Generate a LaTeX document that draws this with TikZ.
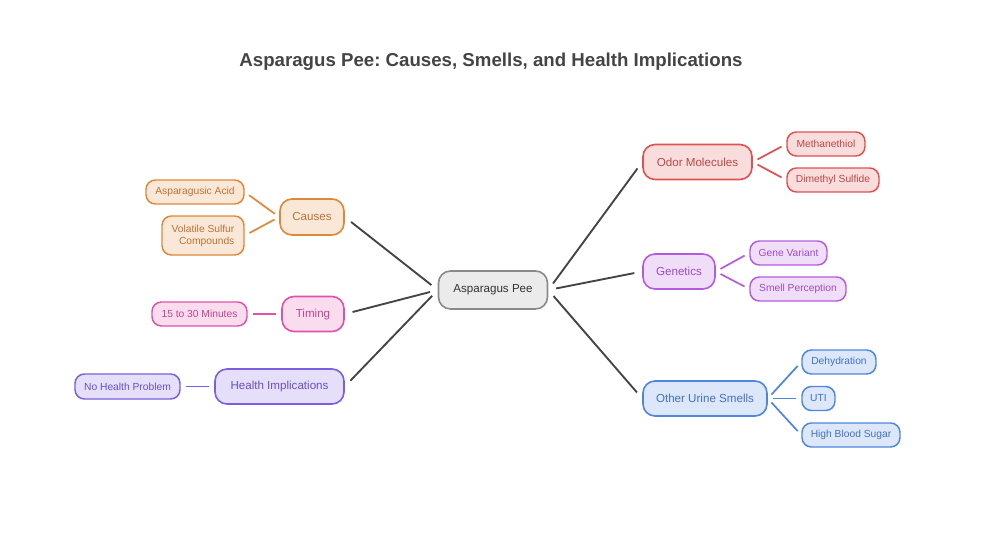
\documentclass[tikz,border=0pt]{standalone}
\usepackage{fontspec}
\setmainfont{Liberation Sans}
\usetikzlibrary{arrows.meta}
\frenchspacing
\definecolor{centergray}{HTML}{8A8A8A}
\definecolor{causeorange}{HTML}{E0883A}
\definecolor{timepink}{HTML}{E052A8}
\definecolor{healthpurple}{HTML}{7B5FE0}
\definecolor{odorred}{HTML}{E05252}
\definecolor{genviolet}{HTML}{B65BE0}
\definecolor{urineblue}{HTML}{4F86E0}
\definecolor{titlegray}{HTML}{444444}

\tikzset{
  tone/.style={draw=#1, fill=#1!20, text=#1!85!black},
  branch/.style={rounded corners=9pt, minimum height=26.25pt, inner sep=0pt,
    line width=1.2pt, font=\fontsize{8.7}{10}\selectfont},
  leaf/.style={rounded corners=7pt, minimum height=18pt, inner sep=0pt,
    line width=1.1pt, font=\fontsize{7.7}{8.8}\selectfont},
  mainlink/.style={line width=1.4pt, titlegray, shorten <=6pt, shorten >=6pt},
  sublink/.style={line width=1.3pt, #1, shorten <=4pt, shorten >=4pt}
}

\begin{document}
\begin{tikzpicture}[x=0.75pt, y=-0.75pt]
  \useasboundingbox (0,0) rectangle (983,533);

  % Titel
  \node[font=\bfseries\fontsize{14}{16}\selectfont, text=titlegray] (title) at (491,62)
    {Asparagus Pee: Causes, Smells, and Health Implications};

  % Zentrum
  \node[branch, draw=centergray, fill=black!8, text=black!80, minimum width=81.75pt,
    minimum height=28.5pt] (pee) at (493,290) {Asparagus Pee};

  % linke Seite
  \node[branch, tone=causeorange, minimum width=48pt, minimum height=27pt] (causes) at (312,217) {Causes};
  \node[leaf, tone=causeorange, minimum width=73.5pt] (acid) at (195,192) {Asparagusic Acid};
  \node[leaf, tone=causeorange, minimum width=61.5pt, minimum height=29.25pt, align=right]
    (sulfur) at (203,235.5) {Volatile Sulfur\\Compounds};

  \node[branch, tone=timepink, minimum width=46.5pt] (timing) at (313,314) {Timing};
  \node[leaf, tone=timepink, minimum width=71.25pt] (minutes) at (199.5,314) {15 to 30 Minutes};

  \node[branch, tone=healthpurple, minimum width=96.75pt] (health) at (279.5,386.5) {Health Implications};
  \node[leaf, tone=healthpurple, minimum width=78.75pt, minimum height=18.75pt]
    (noproblem) at (127.5,386.5) {No Health Problem};

  % rechte Seite
  \node[branch, tone=odorred, minimum width=81.75pt] (odor) at (697.5,162) {Odor Molecules};
  \node[leaf, tone=odorred, minimum width=58.5pt] (methan) at (826,144) {Methanethiol};
  \node[leaf, tone=odorred, minimum width=69pt] (dimethyl) at (833,180) {Dimethyl Sulfide};

  \node[branch, tone=genviolet, minimum width=54pt] (genetics) at (679,271.5) {Genetics};
  \node[leaf, tone=genviolet, minimum width=57.75pt] (variant) at (788.5,253) {Gene Variant};
  \node[leaf, tone=genviolet, minimum width=72pt] (perception) at (798,289) {Smell Perception};

  \node[branch, tone=urineblue, minimum width=93pt] (urine) at (705,398.5) {Other Urine Smells};
  \node[leaf, tone=urineblue, minimum width=55.5pt] (dehyd) at (839,362) {Dehydration};
  \node[leaf, tone=urineblue, minimum width=24.75pt] (uti) at (818.5,398.5) {UTI};
  \node[leaf, tone=urineblue, minimum width=73.5pt] (sugar) at (851,435) {High Blood Sugar};

  % Hauptäste
  \draw[mainlink] (pee.west) -- (causes.east);
  \draw[mainlink] (pee.west) -- (timing.east);
  \draw[mainlink] (pee.west) -- (health.east);
  \draw[mainlink] (pee.east) -- (odor.west);
  \draw[mainlink] (pee.east) -- (genetics.west);
  \draw[mainlink] (pee.east) -- (urine.west);

  % Nebenäste
  \draw[sublink=causeorange] (causes.west) -- (acid.east);
  \draw[sublink=causeorange] (causes.west) -- (sulfur.east);
  \draw[sublink=timepink] (timing.west) -- (minutes.east);
  \draw[sublink=healthpurple] (health.west) -- (noproblem.east);
  \draw[sublink=odorred] (odor.east) -- (methan.west);
  \draw[sublink=odorred] (odor.east) -- (dimethyl.west);
  \draw[sublink=genviolet] (genetics.east) -- (variant.west);
  \draw[sublink=genviolet] (genetics.east) -- (perception.west);
  \draw[sublink=urineblue] (urine.east) -- (dehyd.west);
  \draw[sublink=urineblue] (urine.east) -- (uti.west);
  \draw[sublink=urineblue] (urine.east) -- (sugar.west);
\end{tikzpicture}
\end{document}
